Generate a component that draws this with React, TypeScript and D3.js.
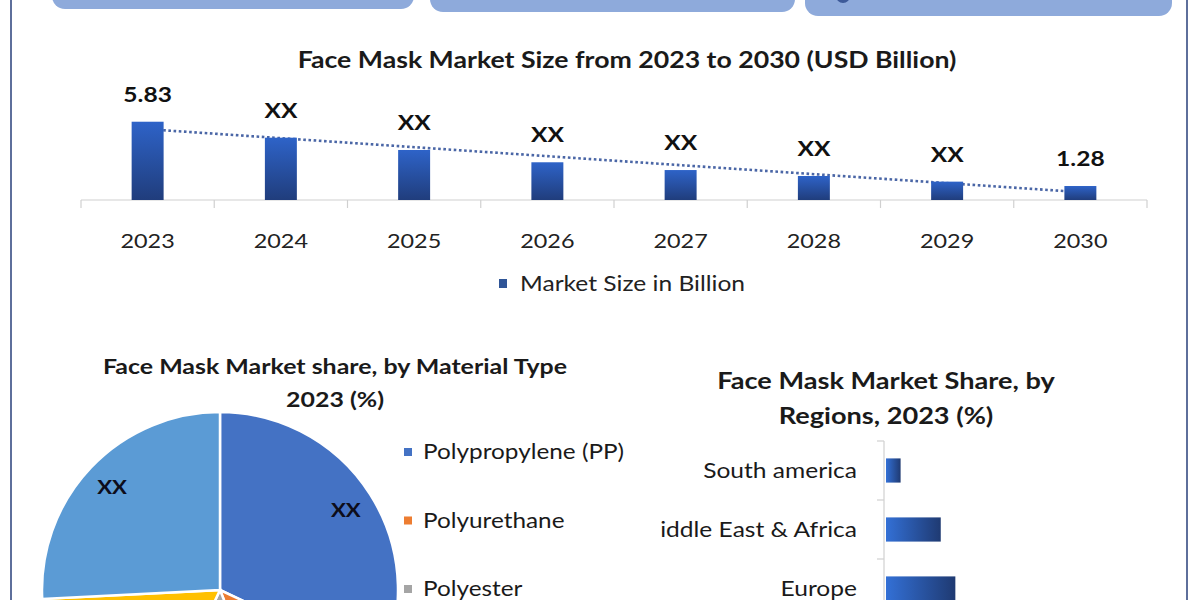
import React, { useEffect, useRef } from "react";
import * as d3 from "d3";

// market size by year (USD billion) - only first and last values are printed
const years = ["2023", "2024", "2025", "2026", "2027", "2028", "2029", "2030"];
const marketSize = [5.83, 4.7, 3.83, 2.96, 2.41, 1.99, 1.59, 1.28];
const marketLabels = ["5.83", "XX", "XX", "XX", "XX", "XX", "XX", "1.28"];

// share by material type (%)
const materials = ["Polypropylene (PP)", "Polyurethane", "Polyester", "Cotton", "Others"];
const materialShare = [32, 12, 13, 17.2, 25.8];
const materialLabels = ["XX", "XX", "XX", "XX", "XX"];

// share by region (%)
const regions = ["South america", "Middle East & Africa", "Europe"];
const regionShare = [4, 15, 19];

const materialColors = ["#4472c4", "#ed7d31", "#a5a5a5", "#ffc000", "#5b9bd5"];
const FONT = "Lato, 'Open Sans', sans-serif";
const SX = 1.17; // source picture is stretched sideways

// move x/y into a transform so the glyphs can be widened
function stretch(sel: any) {
  sel.each(function (this: any) {
    const t = d3.select(this);
    const x0 = +t.attr("x") || 0;
    const y0 = +t.attr("y") || 0;
    const prev = t.attr("transform") || "";
    t.attr("x", 0)
      .attr("y", 0)
      .attr("transform", `${prev} translate(${x0},${y0}) scale(${SX},1)`);
  });
}

const App = () => {
  const ref = useRef(null);

  useEffect(() => {
    const svg = d3.select(ref.current);
    svg.selectAll("*").remove();

    const defs = svg.append("defs");
    const vg = defs
      .append("linearGradient")
      .attr("id", "barGrad")
      .attr("x1", 0).attr("y1", 0).attr("x2", 0).attr("y2", 1);
    vg.append("stop").attr("offset", "0%").attr("stop-color", "#2e63c8");
    vg.append("stop").attr("offset", "100%").attr("stop-color", "#203d7c");
    const hg = defs
      .append("linearGradient")
      .attr("id", "hbarGrad")
      .attr("x1", 0).attr("y1", 0).attr("x2", 1).attr("y2", 0);
    hg.append("stop").attr("offset", "0%").attr("stop-color", "#3370d6");
    hg.append("stop").attr("offset", "100%").attr("stop-color", "#1f3a72");
    defs
      .append("clipPath")
      .attr("id", "regionClip")
      .append("rect")
      .attr("x", 661).attr("y", 420).attr("width", 500).attr("height", 200);

    svg.append("rect").attr("width", 1200).attr("height", 600).attr("fill", "#ffffff");

    // header tabs cut off at the top
    const tabs = [
      { x: 52, w: 362, b: 9 },
      { x: 430, w: 365, b: 12 },
      { x: 805, w: 367, b: 16 },
    ];
    svg
      .selectAll(".tab")
      .data(tabs)
      .enter()
      .append("rect")
      .attr("x", (d) => d.x)
      .attr("y", (d) => d.b - 40)
      .attr("width", (d) => d.w)
      .attr("height", 40)
      .attr("rx", 13)
      .attr("fill", "#8eaadb");
    svg.append("circle").attr("cx", 843).attr("cy", -4).attr("r", 7).attr("fill", "#3d5a99");

    // frame
    svg.append("line").attr("x1", 11).attr("x2", 11).attr("y1", 0).attr("y2", 600)
      .attr("stroke", "#5e6f9b").attr("stroke-width", 2);
    svg.append("line").attr("x1", 1187).attr("x2", 1187).attr("y1", 0).attr("y2", 600)
      .attr("stroke", "#5e6f9b").attr("stroke-width", 2);

    // ---------- top bar chart ----------
    const base = 200;
    const x = d3
      .scaleBand()
      .domain(years)
      .range([81, 1147])
      .paddingInner(0.76)
      .paddingOuter(0.38);
    const y = d3.scaleLinear().domain([0.29, 7]).range([base, base - 14.13 * 6.71]);

    svg
      .append("text")
      .attr("x", 627)
      .attr("y", 68)
      .attr("text-anchor", "middle")
      .attr("font-family", FONT)
      .attr("font-weight", "bold")
      .attr("font-size", 22.8)
      .attr("fill", "#1a1a1a")
      .text("Face Mask Market Size from 2023 to 2030 (USD Billion)")
      .call(stretch);

    // axis line + boundary ticks
    const step = x.step();
    svg.append("line").attr("x1", 81).attr("x2", 1147).attr("y1", base).attr("y2", base)
      .attr("stroke", "#d0d0d0").attr("stroke-width", 1.2);
    svg
      .selectAll(".btick")
      .data(d3.range(years.length + 1))
      .enter()
      .append("line")
      .attr("x1", (i) => 81 + i * step)
      .attr("x2", (i) => 81 + i * step)
      .attr("y1", base)
      .attr("y2", base + 8)
      .attr("stroke", "#d0d0d0")
      .attr("stroke-width", 1.2);

    const xAxis = svg
      .append("g")
      .attr("transform", `translate(0,${base})`)
      .call(d3.axisBottom(x).tickSize(0).tickPadding(34));
    xAxis.select(".domain").remove();
    xAxis
      .selectAll("text")
      .attr("font-family", FONT)
      .attr("font-size", 20)
      .attr("fill", "#222")
      .call(stretch);

    // linear trendline (least squares over category index)
    const n = marketSize.length;
    const mx = d3.mean(d3.range(n));
    const my = d3.mean(marketSize);
    const slope =
      d3.sum(d3.range(n), (i) => (i - mx) * (marketSize[i] - my)) /
      d3.sum(d3.range(n), (i) => (i - mx) * (i - mx));
    const trend = (i) => my + slope * (i - mx);
    const cx = (i) => x(years[i]) + x.bandwidth() / 2;
    svg
      .append("line")
      .attr("x1", cx(0))
      .attr("y1", y(trend(0)))
      .attr("x2", cx(n - 1))
      .attr("y2", y(trend(n - 1)))
      .attr("stroke", "#4a66a6")
      .attr("stroke-width", 2.6)
      .attr("stroke-dasharray", "2.6 2.6");

    svg
      .selectAll(".bar")
      .data(marketSize)
      .enter()
      .append("rect")
      .attr("x", (d, i) => x(years[i]))
      .attr("y", (d) => y(d))
      .attr("width", x.bandwidth())
      .attr("height", (d) => base - y(d))
      .attr("fill", "url(#barGrad)");

    svg
      .selectAll(".blabel")
      .data(marketSize)
      .enter()
      .append("text")
      .attr("x", (d, i) => cx(i))
      .attr("y", (d) => y(d) - 20)
      .attr("text-anchor", "middle")
      .attr("font-family", FONT)
      .attr("font-weight", "bold")
      .attr("font-size", 21)
      .attr("fill", "#111")
      .text((d, i) => marketLabels[i])
      .call(stretch);

    // legend
    svg.append("rect").attr("x", 499).attr("y", 279).attr("width", 8).attr("height", 9)
      .attr("fill", "#2f5597");
    svg
      .append("text")
      .attr("x", 520)
      .attr("y", 291)
      .attr("font-family", FONT)
      .attr("font-size", 21)
      .attr("fill", "#222")
      .text("Market Size in Billion")
      .call(stretch);

    // ---------- pie: material type ----------
    const pieTitle = ["Face Mask Market share, by Material Type", "2023 (%)"];
    svg
      .selectAll(".ptitle")
      .data(pieTitle)
      .enter()
      .append("text")
      .attr("x", 335)
      .attr("y", (d, i) => 374 + i * 33)
      .attr("text-anchor", "middle")
      .attr("font-family", FONT)
      .attr("font-weight", "bold")
      .attr("font-size", 21.3)
      .attr("fill", "#1a1a1a")
      .text((d) => d)
      .call(stretch);

    const cy = 590;
    const pie = d3.pie<number>().sort(null).value((d) => d);
    const arcs = pie(materialShare);
    const r = 178;
    const arc = d3.arc().innerRadius(0).outerRadius(r);
    const labelArc = d3.arc().innerRadius(149).outerRadius(149);
    const pg = svg.append("g").attr("transform", `translate(220,${cy})`);
    pg.selectAll("path")
      .data(arcs)
      .enter()
      .append("path")
      .attr("d", (d) => arc(d))
      .attr("fill", (d, i) => materialColors[i])
      .attr("stroke", "#ffffff")
      .attr("stroke-width", 2.5);
    // labels of the slices below the centre fall outside the picture
    pg.selectAll(".plabel")
      .data(arcs.filter((d) => cy + labelArc.centroid(d)[1] < 580))
      .enter()
      .append("text")
      .attr("transform", (d) => `translate(${labelArc.centroid(d)})`)
      .attr("dy", "0.35em")
      .attr("text-anchor", "middle")
      .attr("font-family", FONT)
      .attr("font-weight", "bold")
      .attr("font-size", 19)
      .attr("fill", "#0d0d1a")
      .text((d) => materialLabels[d.index])
      .call(stretch);

    const legendRows = materials
      .map((m, i) => ({ m, i, y: 452 + i * 68.5 }))
      .filter((d) => d.y < 600);
    const lg = svg
      .selectAll(".plegend")
      .data(legendRows)
      .enter()
      .append("g")
      .attr("transform", (d) => `translate(404,${d.y})`);
    lg.append("rect").attr("x", 0).attr("y", -4).attr("width", 8).attr("height", 8)
      .attr("fill", (d) => materialColors[d.i]);
    lg.append("text")
      .attr("x", 19)
      .attr("dy", "0.35em")
      .attr("font-family", FONT)
      .attr("font-size", 20.8)
      .attr("fill", "#1a1a1a")
      .text((d) => d.m)
      .call(stretch);

    // ---------- horizontal bars: regions ----------
    const regTitle = ["Face Mask Market Share, by", "Regions, 2023 (%)"];
    svg
      .selectAll(".rtitle")
      .data(regTitle)
      .enter()
      .append("text")
      .attr("x", 886)
      .attr("y", (d, i) => 389 + i * 35)
      .attr("text-anchor", "middle")
      .attr("font-family", FONT)
      .attr("font-weight", "bold")
      .attr("font-size", 23.2)
      .attr("fill", "#1a1a1a")
      .text((d) => d)
      .call(stretch);

    const yr = d3
      .scaleBand()
      .domain(regions)
      .range([441, 618])
      .paddingInner(0.59)
      .paddingOuter(0.295);
    const xr = d3.scaleLinear().domain([0, 40]).range([886, 1032]);

    svg.append("line").attr("x1", 884).attr("x2", 884).attr("y1", 441).attr("y2", 600)
      .attr("stroke", "#d0d0d0").attr("stroke-width", 1.2);
    svg
      .selectAll(".rtick")
      .data(d3.range(regions.length + 1))
      .enter()
      .append("line")
      .attr("x1", 877)
      .attr("x2", 884)
      .attr("y1", (i) => 441 + i * yr.step())
      .attr("y2", (i) => 441 + i * yr.step())
      .attr("stroke", "#d0d0d0")
      .attr("stroke-width", 1.2);

    svg
      .selectAll(".hbar")
      .data(regionShare)
      .enter()
      .append("rect")
      .attr("x", xr(0))
      .attr("y", (d, i) => yr(regions[i]))
      .attr("width", (d) => xr(d) - xr(0))
      .attr("height", yr.bandwidth())
      .attr("fill", "url(#hbarGrad)");

    svg
      .append("g")
      .attr("clip-path", "url(#regionClip)")
      .selectAll(".rlabel")
      .data(regions)
      .enter()
      .append("text")
      .attr("x", 857)
      .attr("y", (d) => yr(d) + yr.bandwidth() / 2)
      .attr("dy", "0.35em")
      .attr("text-anchor", "end")
      .attr("font-family", FONT)
      .attr("font-size", 21)
      .attr("fill", "#1a1a1a")
      .text((d) => d)
      .call(stretch);
  }, []);

  return (
    <svg
      ref={ref}
      width={1200}
      height={600}
      style={{ position: "absolute", left: 0, top: 0, display: "block" }}
    />
  );
};

export default App;
